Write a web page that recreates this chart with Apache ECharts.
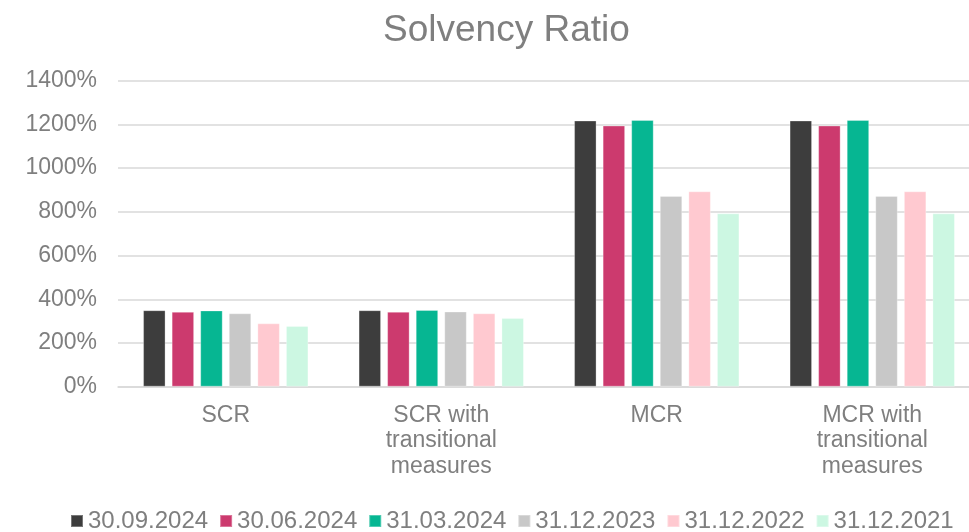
<!DOCTYPE html>
<html><head><meta charset="utf-8">
<script src="https://cdn.jsdelivr.net/npm/echarts@6/dist/echarts.min.js"></script>
<style>html,body{margin:0;padding:0;background:#fff}#c{width:969px;height:532px}</style>
</head><body><div id="c"></div>
<script>
const categories = ['SCR', 'SCR with\ntransitional\nmeasures', 'MCR', 'MCR with\ntransitional\nmeasures'];
const seriesNames = ['30.09.2024', '30.06.2024', '31.03.2024', '31.12.2023', '31.12.2022', '31.12.2021'];
const v20240930 = [350, 350, 1218, 1218];
const v20240630 = [343, 343, 1195, 1195];
const v20240331 = [349, 351, 1220, 1220];
const v20231231 = [336, 344, 873, 873];
const v20221231 = [290, 336, 894, 894];
const v20211231 = [278, 314, 793, 793];
const yTicks = [0, 200, 400, 600, 800, 1000, 1200, 1400];
const colors = ['#3d3d3d', '#cc3a6e', '#06b692', '#c8c8c8', '#ffc9d0', '#ccf7e2'];
const values = [v20240930, v20240630, v20240331, v20231231, v20221231, v20211231];

const font = 'Liberation Sans, Arial, sans-serif';
const chart = echarts.init(document.getElementById('c'));
chart.setOption({
  animation: false,
  color: colors,
  title: {
    text: 'Solvency Ratio', left: 378, top: 7,
    textStyle: { fontFamily: font, fontSize: 37, fontWeight: 'normal', color: '#7f7f7f' }
  },
  legend: {
    top: 509, left: 70, padding: 0, itemWidth: 12, itemHeight: 12, itemGap: 11,
    icon: 'rect',
    textStyle: { fontFamily: font, fontSize: 24, color: '#7f7f7f' },
    data: seriesNames
  },
  grid: { left: 118, top: 80.7, width: 862, height: 306, containLabel: false, outerBoundsMode: 'none' },
  xAxis: {
    type: 'category', data: categories,
    axisLine: { lineStyle: { color: '#d9d9d9', width: 1.5 } },
    axisTick: { show: false },
    axisLabel: { fontFamily: font, fontSize: 23, color: '#7f7f7f', lineHeight: 25.5, margin: 16 }
  },
  yAxis: {
    type: 'value', min: yTicks[0], max: yTicks[yTicks.length - 1], interval: 200,
    axisLine: { show: false }, axisTick: { show: false },
    splitLine: { lineStyle: { color: '#d9d9d9', width: 1.5 } },
    axisLabel: { fontFamily: font, fontSize: 23, color: '#7f7f7f', margin: 21, formatter: v => v + '%' }
  },
  series: seriesNames.map((n, i) => ({
    name: n, type: 'bar', data: values[i], barWidth: 22.5, barGap: '27%',
    itemStyle: { borderColor: 'rgba(255,255,255,0.3)', borderWidth: 1 }
  }))
});
</script></body></html>
